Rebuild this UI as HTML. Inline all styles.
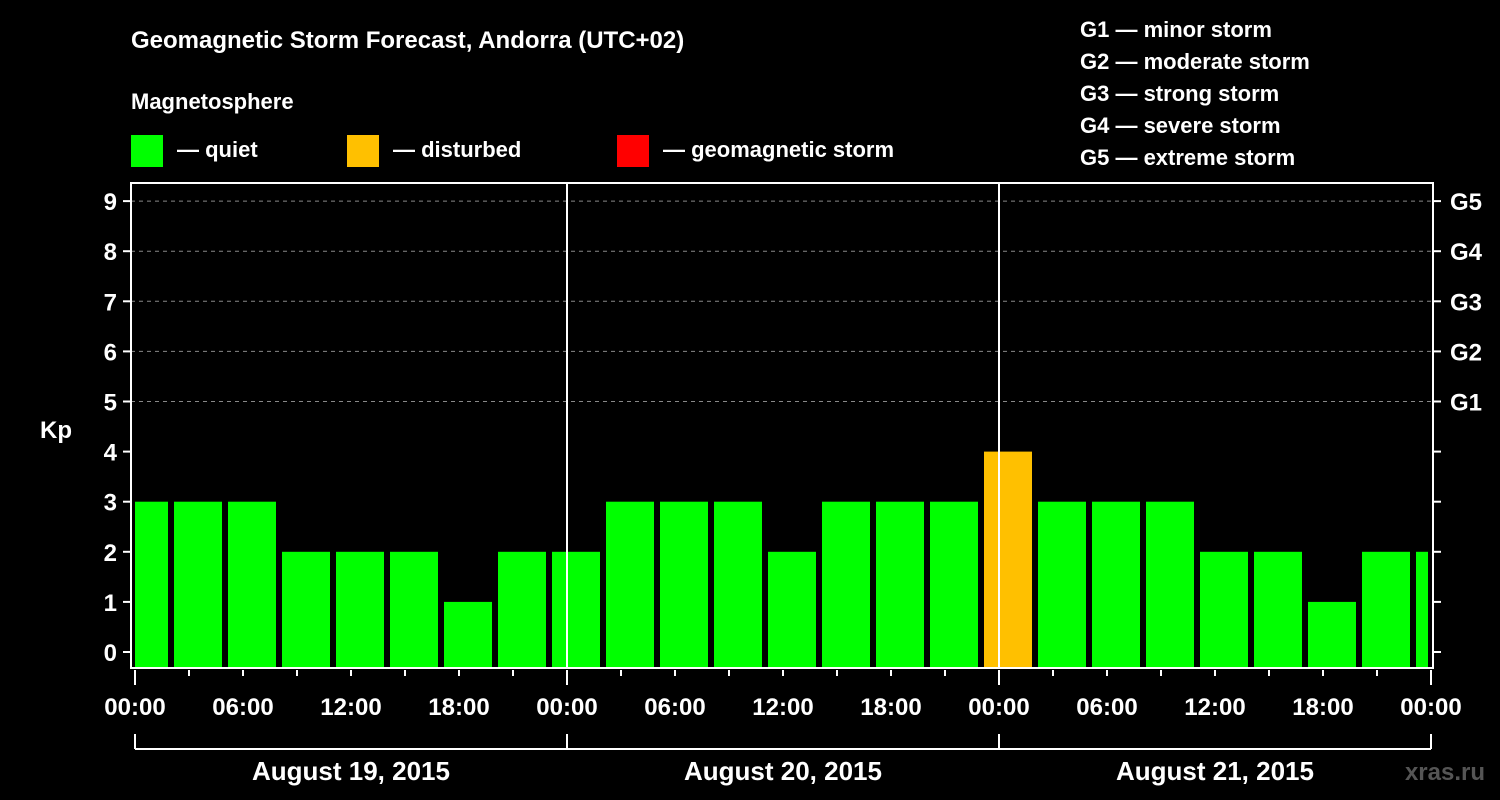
<!DOCTYPE html>
<html><head><meta charset="utf-8"><style>
html,body{margin:0;padding:0;background:#000;}
svg{display:block;font-family:"Liberation Sans",Arial,sans-serif;font-weight:bold;}
</style></head><body>
<svg width="1500" height="800" viewBox="0 0 1500 800">
<g id="header">
<text x="131" y="48" fill="#fff" font-size="24">Geomagnetic Storm Forecast, Andorra (UTC+02)</text>
<text x="131" y="109" fill="#fff" font-size="22">Magnetosphere</text>
<rect x="131" y="135" width="32" height="32" fill="#00ff00"/>
<text x="177" y="157" fill="#fff" font-size="22">— quiet</text>
<rect x="347" y="135" width="32" height="32" fill="#ffc000"/>
<text x="393" y="157" fill="#fff" font-size="22">— disturbed</text>
<rect x="617" y="135" width="32" height="32" fill="#ff0000"/>
<text x="663" y="157" fill="#fff" font-size="22">— geomagnetic storm</text>
<text x="1080" y="37" fill="#fff" font-size="22">G1 — minor storm</text>
<text x="1080" y="69" fill="#fff" font-size="22">G2 — moderate storm</text>
<text x="1080" y="101" fill="#fff" font-size="22">G3 — strong storm</text>
<text x="1080" y="133" fill="#fff" font-size="22">G4 — severe storm</text>
<text x="1080" y="165" fill="#fff" font-size="22">G5 — extreme storm</text>
<text x="40" y="438" fill="#fff" font-size="24">Kp</text>
<text x="1485" y="780" fill="#555" font-size="24" text-anchor="end">xras.ru</text>
</g>
<g id="plot"></g>
</svg>
<script>
const kpValues=[3,3,3,2,2,2,1,2,2,3,3,3,2,3,3,3,4,3,3,3,2,2,1,2,2];
const yTicks=[0,1,2,3,4,5,6,7,8,9];
const gLabels=["G1","G2","G3","G4","G5"];
const gLevels=[5,6,7,8,9];
const hourLabels=["00:00","06:00","12:00","18:00"];
const dayLabels=["August 19, 2015","August 20, 2015","August 21, 2015"];
const firstBarHour=0.5; // bar center offset in hours
const barStepHours=3;

const NS="http://www.w3.org/2000/svg";
const g=document.getElementById('plot');
const L=131,R=1433,T=183,B=668;
const x0=135,pxPerHour=18;
function xs(h){return x0+h*pxPerHour;}
function ys(v){return 652-v*50.1;}
function mk(tag,attrs,parent){const e=document.createElementNS(NS,tag);for(const k in attrs)e.setAttribute(k,attrs[k]);(parent||g).appendChild(e);return e;}

// grid
gLevels.forEach(v=>{
 const l=mk('line',{x1:L,x2:R,y1:ys(v),y2:ys(v),stroke:'#888','stroke-width':1,'stroke-dasharray':'4,4'});
 
 
});
// clip
const defs=mk('defs',{});
const cp=mk('clipPath',{id:'pc'},defs);
mk('rect',{x:L+4,y:T,width:1428-L-4,height:B-T},cp);
const bars=mk('g',{'clip-path':'url(#pc)'});


kpValues.forEach((v,i)=>{
 const c=xs(firstBarHour+i*barStepHours);
 const col=v>=5?'#ff0000':(v>=4?'#ffc000':'#00ff00');
 const r=mk('rect',{x:c-24,y:ys(v),width:48,height:B-ys(v),fill:col},bars);
 
 
});
// day separators
for(let d=1;d<dayLabels.length;d++){
 const l=mk('line',{x1:xs(d*24),x2:xs(d*24),y1:T,y2:B,stroke:'#fff','stroke-width':2});
 
 
}
// frame
const fr=mk('rect',{x:L,y:T,width:R-L,height:B-T,fill:'none',stroke:'#fff','stroke-width':2});


// y ticks
yTicks.forEach(v=>{
 const y=ys(v);
 mk('line',{x1:L-8,x2:L,y1:y,y2:y,stroke:'#fff','stroke-width':2});
 mk('line',{x1:R,x2:R+8,y1:y,y2:y,stroke:'#fff','stroke-width':2});
 const t=mk('text',{x:L-14,y:y+9,fill:'#fff','font-size':24,'text-anchor':'end'});
 t.textContent=v;
 
 
});
gLabels.forEach((s,i)=>{
 const t=mk('text',{x:1450,y:ys(gLevels[i])+9,fill:'#fff','font-size':24});
 t.textContent=s;
 
 
});
// x ticks
const totalH=dayLabels.length*24;
for(let h=0;h<=totalH;h+=3){
 const major=h%6===0;
 mk('line',{x1:xs(h),x2:xs(h),y1:670,y2:h%24===0?685:676,stroke:'#fff','stroke-width':2});
 if(major){
  const t=mk('text',{x:xs(h),y:715,fill:'#fff','font-size':24,'text-anchor':'middle'});
  t.textContent=hourLabels[(h%24)/6];
  
  
 }
}
// day bracket
mk('line',{x1:xs(0),x2:xs(totalH),y1:749,y2:749,stroke:'#fff','stroke-width':2});
for(let d=0;d<=dayLabels.length;d++) mk('line',{x1:xs(d*24),x2:xs(d*24),y1:734,y2:749,stroke:'#fff','stroke-width':2});
dayLabels.forEach((s,d)=>{
 const t=mk('text',{x:xs(d*24+12),y:780,fill:'#fff','font-size':26,'text-anchor':'middle'});
 t.textContent=s;
 
 
});
</script>
</body></html>
